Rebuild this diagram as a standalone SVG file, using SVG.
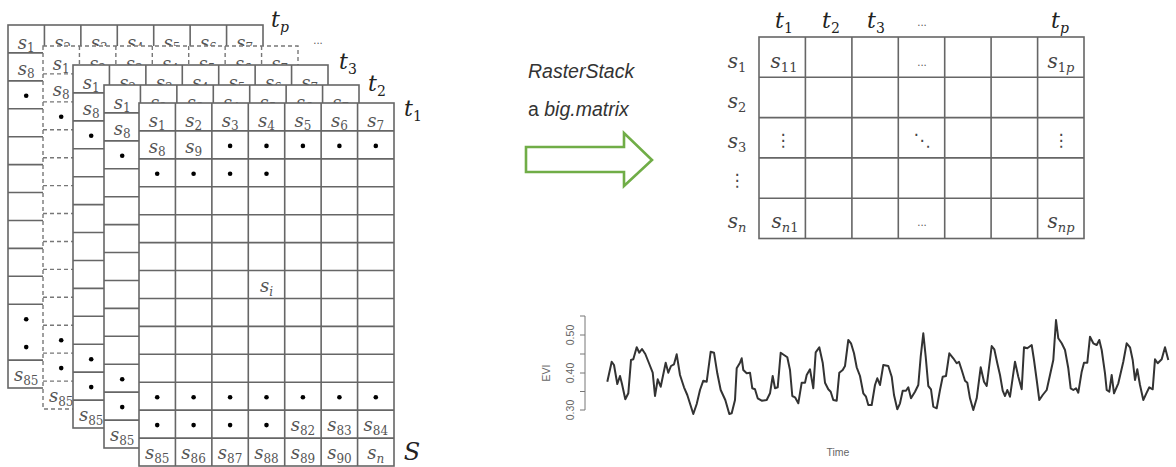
<svg xmlns="http://www.w3.org/2000/svg" xmlns:xlink="http://www.w3.org/1999/xlink" width="1176" height="467" viewBox="0 0 1176 467">
<style>
.s{font-family:"DejaVu Serif",serif;font-style:italic;font-size:18px;fill:#555;text-anchor:middle;stroke:none}
.sb{font-size:12px;font-style:normal}
.si{font-size:12px;font-style:italic}
.t{font-family:"DejaVu Serif",serif;font-style:italic;font-size:22px;fill:#222;text-anchor:middle;stroke:none}
.tb{font-size:14px;font-style:normal}
.ti{font-size:14px;font-style:italic}
.ms{font-family:"DejaVu Serif",serif;font-style:italic;font-size:20px;fill:#444;text-anchor:middle}
.msb{font-size:13px;font-style:normal}
.msi{font-size:13px;font-style:italic}
.ell{font-family:"DejaVu Sans",sans-serif;font-size:10px;fill:#555;text-anchor:middle}
.vd{font-family:"DejaVu Sans",sans-serif;font-size:17px;fill:#444;text-anchor:middle}
.dot{fill:#000;stroke:none}
.grid{fill:none;stroke:#666;stroke-width:1.6}
.ax{font-family:"Liberation Sans",Arial,sans-serif;font-size:10.5px;fill:#666;text-anchor:middle}
</style>
<defs>
<g id="layer">
<rect width="255" height="363" fill="#fff"/>
<path fill="none" d="M36.43 0V363M72.86 0V363M109.29 0V363M145.71 0V363M182.14 0V363M218.57 0V363M0 27.92H255M0 55.85H255M0 83.77H255M0 111.69H255M0 139.62H255M0 167.54H255M0 195.46H255M0 223.38H255M0 251.31H255M0 279.23H255M0 335.08H255"/>
<g class="lbl">
<text class="s" x="18.2" y="23.5">s<tspan class="sb" dy="3.5">1</tspan></text>
<text class="s" x="54.6" y="23.5">s<tspan class="sb" dy="3.5">2</tspan></text>
<text class="s" x="91.1" y="23.5">s<tspan class="sb" dy="3.5">3</tspan></text>
<text class="s" x="127.5" y="23.5">s<tspan class="sb" dy="3.5">4</tspan></text>
<text class="s" x="163.9" y="23.5">s<tspan class="sb" dy="3.5">5</tspan></text>
<text class="s" x="200.4" y="23.5">s<tspan class="sb" dy="3.5">6</tspan></text>
<text class="s" x="236.8" y="23.5">s<tspan class="sb" dy="3.5">7</tspan></text>
<text class="s" x="18.2" y="49.5">s<tspan class="sb" dy="3.5">8</tspan></text>
<text class="s" x="54.6" y="49.5">s<tspan class="sb" dy="3.5">9</tspan></text>
<text class="s" x="127.5" y="188.5">s<tspan class="si" dy="4">i</tspan></text>
<text class="s" x="163.9" y="328.2">s<tspan class="sb" dy="4">82</tspan></text>
<text class="s" x="200.4" y="328.2">s<tspan class="sb" dy="4">83</tspan></text>
<text class="s" x="236.8" y="328.2">s<tspan class="sb" dy="4">84</tspan></text>
<text class="s" x="18.2" y="356.1">s<tspan class="sb" dy="4">85</tspan></text>
<text class="s" x="54.6" y="356.1">s<tspan class="sb" dy="4">86</tspan></text>
<text class="s" x="91.1" y="356.1">s<tspan class="sb" dy="4">87</tspan></text>
<text class="s" x="127.5" y="356.1">s<tspan class="sb" dy="4">88</tspan></text>
<text class="s" x="163.9" y="356.1">s<tspan class="sb" dy="4">89</tspan></text>
<text class="s" x="200.4" y="356.1">s<tspan class="sb" dy="4">90</tspan></text>
<text class="s" x="236.8" y="356.1">s<tspan class="si" dy="4">n</tspan></text>
</g>
<g class="dot">
<circle cx="91.1" cy="42.9" r="2.3"/><circle cx="127.5" cy="42.9" r="2.3"/><circle cx="163.9" cy="42.9" r="2.3"/><circle cx="200.4" cy="42.9" r="2.3"/><circle cx="236.8" cy="42.9" r="2.3"/>
<circle cx="18.2" cy="70.8" r="2.3"/><circle cx="54.6" cy="70.8" r="2.3"/><circle cx="91.1" cy="70.8" r="2.3"/><circle cx="127.5" cy="70.8" r="2.3"/>
<circle cx="18.2" cy="294.2" r="2.3"/><circle cx="54.6" cy="294.2" r="2.3"/><circle cx="91.1" cy="294.2" r="2.3"/><circle cx="127.5" cy="294.2" r="2.3"/><circle cx="163.9" cy="294.2" r="2.3"/><circle cx="200.4" cy="294.2" r="2.3"/><circle cx="236.8" cy="294.2" r="2.3"/>
<circle cx="18.2" cy="322.1" r="2.3"/><circle cx="54.6" cy="322.1" r="2.3"/><circle cx="91.1" cy="322.1" r="2.3"/><circle cx="127.5" cy="322.1" r="2.3"/>
</g>
</g>
</defs>

<g id="raster-stack">
<g id="layer-tp" stroke="#666" stroke-width="1.6">
<use xlink:href="#layer" href="#layer" x="8" y="25"/>
</g>
<g id="layer-dashed" stroke="#777" stroke-width="1.4" stroke-dasharray="4 3">
<use xlink:href="#layer" href="#layer" x="43" y="46"/>
<line x1="43" y1="353.15" x2="298" y2="353.15"/>
</g>
<g id="layer-t3" stroke="#666" stroke-width="1.6">
<use xlink:href="#layer" href="#layer" x="73" y="65"/>
<line x1="73" y1="372.15" x2="328" y2="372.15"/>
</g>
<g id="layer-t2" stroke="#666" stroke-width="1.6">
<use xlink:href="#layer" href="#layer" x="104" y="85"/>
<line x1="104" y1="392.15" x2="359" y2="392.15"/>
</g>
<g id="layer-t1" stroke="#666" stroke-width="1.6">
<use xlink:href="#layer" href="#layer" x="139" y="103"/>
<line x1="139" y1="410.15" x2="394" y2="410.15"/>
</g>
<g id="stack-labels">
<text class="t" x="280" y="27">t<tspan class="ti" dy="5">p</tspan></text>
<text class="ell" x="318" y="44">...</text>
<text class="t" x="348" y="69">t<tspan class="tb" dy="5">3</tspan></text>
<text class="t" x="377" y="91">t<tspan class="tb" dy="5">2</tspan></text>
<text class="t" x="413" y="116">t<tspan class="tb" dy="5">1</tspan></text>
<text class="t" x="412" y="460" style="font-size:24px">S</text>
</g>
</g>

<g id="caption">
<text x="528" y="78" font-family="Liberation Sans, Arial, sans-serif" font-size="19.5" font-style="italic" fill="#333">RasterStack</text>
<text x="528" y="116" font-family="Liberation Sans, Arial, sans-serif" font-size="19.5" fill="#333">a <tspan font-style="italic">big.matrix</tspan></text>
</g>

<g id="connectors">
<polygon points="526,147 624,147 624,133 652,160 624,186 624,172 526,172" fill="#fff" stroke="#70ad47" stroke-width="2.6" stroke-linejoin="miter"/>
</g>

<g id="matrix">
<rect x="759" y="37" width="325" height="201.5" fill="#fff" class="grid"/>
<path class="grid" d="M805.4 37V238.5M851.9 37V238.5M898.3 37V238.5M944.7 37V238.5M991.1 37V238.5M1037.6 37V238.5M759 77.3H1084M759 117.6H1084M759 157.9H1084M759 198.2H1084"/>
<text class="t" x="784" y="28">t<tspan class="tb" dy="5">1</tspan></text>
<text class="t" x="831" y="28">t<tspan class="tb" dy="5">2</tspan></text>
<text class="t" x="876" y="28">t<tspan class="tb" dy="5">3</tspan></text>
<text class="ell" x="922" y="26">...</text>
<text class="t" x="1060" y="28">t<tspan class="ti" dy="5">p</tspan></text>
<text class="ms" x="737" y="68">s<tspan class="msb" dy="4">1</tspan></text>
<text class="ms" x="737" y="108">s<tspan class="msb" dy="4">2</tspan></text>
<text class="ms" x="737" y="148">s<tspan class="msb" dy="4">3</tspan></text>
<text class="vd" x="737" y="186">⋮</text>
<text class="ms" x="737" y="228">s<tspan class="msi" dy="4">n</tspan></text>
<text class="ms" x="784" y="68">s<tspan class="msb" dy="4">11</tspan></text>
<text class="ell" x="922" y="66">...</text>
<text class="ms" x="1061" y="68">s<tspan class="msb" dy="4">1</tspan><tspan class="msi">p</tspan></text>
<text class="vd" x="783" y="146">⋮</text>
<text class="vd" x="922" y="146">⋱</text>
<text class="vd" x="1061" y="146">⋮</text>
<text class="ms" x="785" y="228">s<tspan class="msi" dy="4">n</tspan><tspan class="msb">1</tspan></text>
<text class="ell" x="922" y="226">...</text>
<text class="ms" x="1061" y="228">s<tspan class="msi" dy="4">np</tspan></text>
</g>

<g id="evi-plot">
<path d="M585 316V410M585 316H580M585 335H580M585 354H580M585 373H580M585 391.5H580M585 410H580" fill="none" stroke="#777" stroke-width="1"/>
<text class="ax" transform="translate(574 335) rotate(-90)">0.50</text>
<text class="ax" transform="translate(574 373) rotate(-90)">0.40</text>
<text class="ax" transform="translate(574 410) rotate(-90)">0.30</text>
<text class="ax" transform="translate(550 373) rotate(-90)">EVI</text>
<text class="ax" x="838" y="456">Time</text>
<polyline fill="none" stroke="#333" stroke-width="2" stroke-linejoin="round" points="607.3,381.7 611.7,361.7 614,365 617.3,384 620,376 622,384 625.3,399.3 628.3,393.3 631,360 633.3,359.3 636.7,347.3 639.3,352.7 642,349 645.3,354 649.3,364 652.7,372.7 655,396 657.7,379.3 660.7,386.7 665.7,362.7 668.3,372.7 671,366 674,364.3 676.7,354.3 680,375 684,387.3 687.3,395 693.3,414 696.7,404 700,390 703.3,380.7 706.7,381.7 710.7,351.7 714,352.7 717.3,373.3 720.7,390 725.3,400 729.3,414 731.7,413.3 735,400 736.7,368.3 740,362.7 741.7,358.3 743.3,370 746.7,373.3 750,372.7 752.3,388.3 755,389.3 757.7,398.3 761.7,400.7 766.7,400 770,393.3 772.7,376 775,388.3 777.7,387.3 780.7,352.7 784,355 787.3,357.3 790,370 792.3,396 795,397.3 798.3,403.3 801.7,382.7 805,382.7 806.7,375 810,369.3 813.3,388.3 815.7,352.3 819.3,347.3 822.7,362.7 825,382.7 828.3,389.3 830.7,391.7 833.3,400 836.7,400.7 839.3,372.7 842.7,370 845,366 848.3,340 851,343.3 854,353.3 856.7,367.3 860,376 863.3,393.3 866,396.7 868.3,405 871.7,405 875,385 877.3,378.3 880,385 883.3,365 888.3,366 891.7,376.7 894,395 897.3,409.3 900,403.3 902.7,390.7 906,390.7 908.3,387.3 911,398.3 915,391.7 918.3,385 920.7,356.7 923.3,333.3 925.7,356.7 928.3,386 931,389.3 933.3,406.7 936.7,408.3 940,390 942.7,376.7 946,376 949.3,353.3 953.3,358.3 956.7,363.3 959,361.7 961.7,370 965,380.7 967.3,382.7 970,398.3 973.3,410 976.7,398.3 980.7,367.3 984,381.7 986.7,386 991.7,346 994.3,349.3 997.3,363.3 1000,375 1002.7,390.7 1005,396 1007.3,390 1010,396.7 1015,361.7 1018.3,376.7 1021.7,389.3 1024,347.3 1027.3,348.3 1031.7,345 1034,360 1036.7,380 1039.3,400 1042.7,395 1046.7,390 1050,375 1053.3,360 1056,320 1058.3,338.3 1061.7,343.3 1065,350 1068.3,368.3 1070.7,388.3 1073.3,390 1076,388.3 1078.3,392.7 1081.7,371.7 1084,362.7 1087.3,362.7 1090,336.7 1093.3,343.3 1096.7,345 1099.3,340 1101.7,350 1105,373.3 1106.7,390 1109.3,391.7 1111.7,375 1114,393.3 1118.3,383.3 1123.3,361.7 1126.7,343.3 1130,347.3 1132.7,360 1135,380 1137.3,369.3 1140,385 1143.3,400 1146.7,392.7 1149.3,387.3 1152.7,389.3 1155,359.3 1157.7,363.3 1161.7,359.3 1165,347.3 1168.3,360"/>
</g>
</svg>
